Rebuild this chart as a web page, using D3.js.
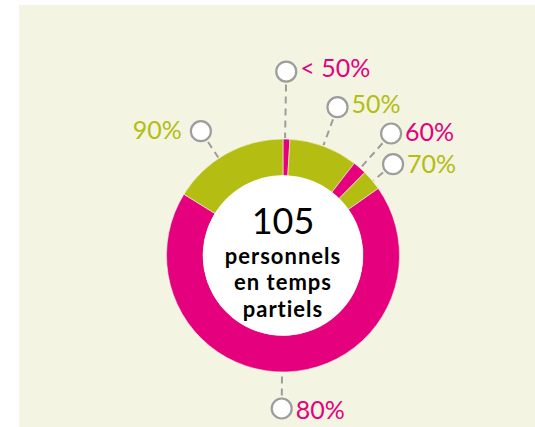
<!DOCTYPE html>
<html>
<head>
<meta charset="utf-8">
<script src="https://cdn.jsdelivr.net/npm/d3@7"></script>
<style>
  body { margin: 0; background: #fff; }
  text { font-family: Lato, "Open Sans", sans-serif; }
</style>
</head>
<body>
<svg width="535" height="427"></svg>
<script>
// chart data
var categories = ["< 50%", "50%", "60%", "70%", "80%", "90%"];
var counts = [1, 10, 2, 3, 72, 17];
var total = 105;
var centerLines = ["personnels", "en temps", "partiels"];

// label layout: radial distance, angle nudge (deg), baseline shift
var labelDist = [184, 158, 163, 143, 153, 149];
var labelNudge = [-0.7, -0.4, 0.4, 0.6, 2.2, -4.3];
var labelDy = [5.5, 5.5, 7, 8.5, 10.5, 7.5];

var magenta = "#e5007d";
var green = "#b3bd12";
var color = function(i) { return i % 2 == 0 ? magenta : green; };

var svg = d3.select("svg");
var cx = 283, cy = 255.5;
var outer = 116.5, inner = 80;

svg.append("rect")
  .attr("x", 19).attr("y", 5)
  .attr("width", 516).attr("height", 422)
  .attr("fill", "#f3f4e2");

var pie = d3.pie().sort(null).value(function(d) { return d; });
var arcs = pie(counts);
var arc = d3.arc().innerRadius(inner).outerRadius(outer);

var g = svg.append("g").attr("transform", "translate(" + cx + "," + cy + ")");

g.selectAll("path")
  .data(arcs)
  .enter().append("path")
  .attr("d", arc)
  .attr("fill", function(d, i) { return color(i); })
  .attr("stroke", "#f3f4e2")
  .attr("stroke-width", 0.6);

g.append("circle").attr("r", inner).attr("fill", "#fff");

function polar(a, r) {
  return [Math.sin(a) * r, -Math.cos(a) * r];
}

var label = g.selectAll(".label")
  .data(arcs)
  .enter().append("g")
  .attr("class", "label");

label.each(function(d, i) {
  var a = (d.startAngle + d.endAngle) / 2 + labelNudge[i] * Math.PI / 180;
  var p = polar(a, labelDist[i]);
  var p1 = polar(a, labelDist[i] - 13);
  var p2 = polar(a, outer + 1);
  var sel = d3.select(this);
  sel.append("line")
    .attr("x1", p1[0]).attr("y1", p1[1])
    .attr("x2", p2[0]).attr("y2", p2[1])
    .attr("stroke", "#9d9d9c")
    .attr("stroke-width", 2)
    .attr("stroke-dasharray", "7,5");
  sel.append("circle")
    .attr("cx", p[0]).attr("cy", p[1])
    .attr("r", 10)
    .attr("fill", "#fff")
    .attr("stroke", "#9d9d9c")
    .attr("stroke-width", 2.2);
  var left = p[0] < -20;
  sel.append("text")
    .attr("x", left ? p[0] - 19 : p[0] + 14)
    .attr("y", p[1] + labelDy[i])
    .attr("text-anchor", left ? "end" : "start")
    .attr("font-size", 25)
    .attr("fill", color(i))
    .text(categories[i]);
});

g.append("text")
  .attr("y", -22)
  .attr("text-anchor", "middle")
  .attr("font-size", 36)
  .attr("fill", "#000")
  .text(d3.sum(counts) == total ? total : d3.sum(counts));

g.selectAll(".sub")
  .data(centerLines)
  .enter().append("text")
  .attr("class", "sub")
  .attr("y", function(d, i) { return 8 + i * 26.5; })
  .attr("text-anchor", "middle")
  .attr("font-size", 22)
  .attr("font-weight", "bold")
  .attr("letter-spacing", 1)
  .attr("fill", "#000")
  .text(function(d) { return d; });
</script>
</body>
</html>
